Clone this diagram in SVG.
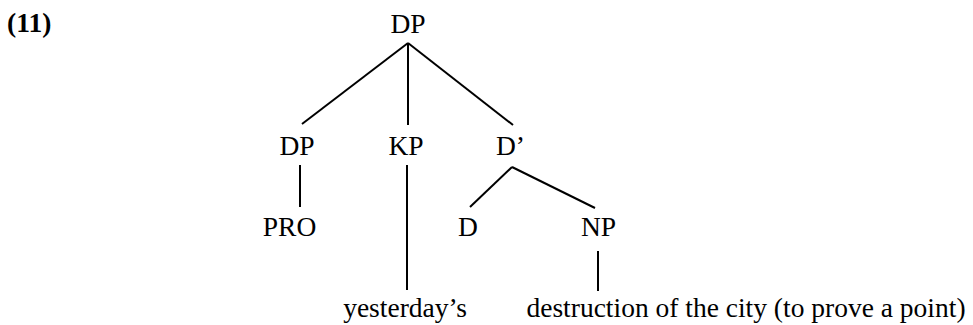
<svg xmlns="http://www.w3.org/2000/svg" width="973" height="325" viewBox="0 0 973 325">
<style>
text{font-family:"Liberation Serif","Times New Roman",serif;font-size:27.5px;fill:#000;text-anchor:middle}
.e{stroke:#000;stroke-width:2;fill:none}
</style>
<rect width="973" height="325" fill="#fff"/>
<text x="7" y="32" style="text-anchor:start;font-weight:bold">(11)</text>
<g id="connectors">
<line class="e" x1="408" y1="43" x2="302" y2="124"/>
<line class="e" x1="408" y1="43" x2="408" y2="125"/>
<line class="e" x1="408" y1="43" x2="513" y2="125"/>
<line class="e" x1="300" y1="165" x2="300" y2="207"/>
<line class="e" x1="407" y1="165" x2="407" y2="290"/>
<line class="e" x1="512" y1="167" x2="470" y2="207"/>
<line class="e" x1="512" y1="167" x2="595" y2="208"/>
<line class="e" x1="598" y1="251" x2="598" y2="291"/>
</g>
<g id="n-dp-root"><text x="408" y="33">DP</text></g>
<g id="n-dp"><text x="297" y="155">DP</text></g>
<g id="n-kp"><text x="406" y="155">KP</text></g>
<g id="n-dbar"><text x="510.5" y="155">D’</text></g>
<g id="n-pro"><text x="289.5" y="236">PRO</text></g>
<g id="n-d"><text x="468" y="236">D</text></g>
<g id="n-np"><text x="598.5" y="236">NP</text></g>
<g id="n-yesterday"><text x="405" y="317">yesterday’s</text></g>
<g id="n-destruction"><text x="746" y="317">destruction of the city (to prove a point)</text></g>
</svg>
